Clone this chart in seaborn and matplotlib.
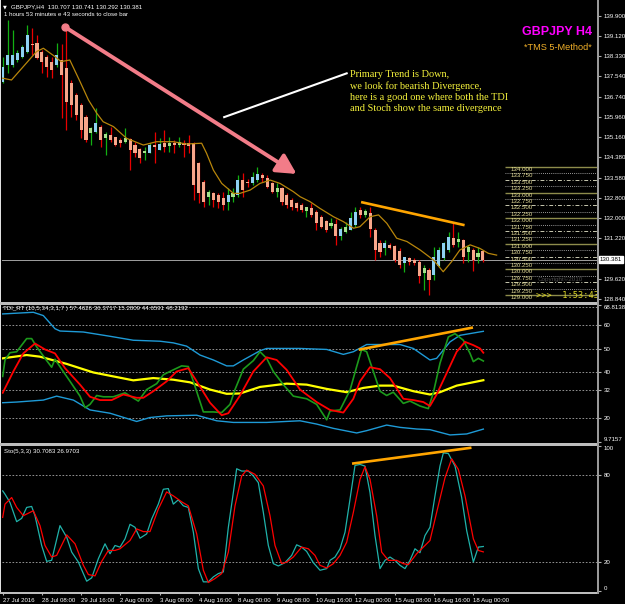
import matplotlib
matplotlib.use("Agg")
import matplotlib.pyplot as plt
import seaborn as sns
import pandas as pd
from matplotlib.patches import FancyArrowPatch, Rectangle, ArrowStyle

# ---------------- data ----------------
opens = [137.33, 137.99, 137.99, 138.18, 138.29, 138.51, 138.80, 138.83, 138.51, 138.31,
         138.12, 137.99, 138.18, 137.86, 137.27, 136.81, 136.42, 135.97, 135.32, 135.38,
         135.58, 135.12, 135.25, 135.16, 135.06, 134.99, 135.08, 134.86, 134.69, 134.53,
         134.56, 134.86, 134.66, 134.92, 134.82, 134.95, 134.86, 134.92, 134.92, 134.92,
         134.14, 133.43, 132.84, 132.97, 132.91, 132.78, 132.65, 132.84, 132.91, 133.49,
         133.40, 133.36, 133.49, 133.69, 133.56, 133.36, 133.04, 133.17, 132.91, 132.71,
         132.58, 132.52, 132.30, 132.39, 132.26, 132.06, 131.89, 131.70, 131.77, 131.31,
         131.48, 131.54, 131.74, 132.32, 132.13, 132.22, 131.54, 131.02, 130.82, 130.95,
         130.92, 130.73, 130.24, 130.43, 130.37, 130.30, 129.87, 129.98, 129.78, 130.14,
         130.43, 130.76, 131.22, 131.09, 131.15, 130.69, 130.76, 130.50, 130.707]
highs = [138.31, 139.74, 139.35, 138.57, 138.77, 139.55, 139.42, 139.16, 138.57, 138.38,
         138.31, 138.83, 138.80, 139.55, 137.40, 136.88, 136.49, 136.03, 135.58, 136.29,
         135.64, 135.38, 135.58, 135.19, 135.12, 135.54, 135.12, 134.99, 134.73, 134.79,
         134.92, 135.38, 135.12, 135.45, 135.19, 135.06, 135.19, 135.06, 135.25, 134.99,
         134.21, 133.49, 133.10, 133.04, 132.97, 133.04, 133.17, 133.17, 133.69, 133.75,
         133.52, 133.82, 134.01, 133.75, 133.69, 133.43, 133.36, 133.23, 132.97, 132.78,
         132.65, 132.58, 132.45, 132.58, 132.32, 132.13, 131.93, 132.00, 131.96, 131.67,
         131.87, 132.26, 132.45, 132.45, 132.35, 132.45, 131.61, 131.15, 131.15, 131.02,
         130.95, 130.82, 130.50, 130.47, 130.43, 130.37, 130.17, 130.04, 130.89, 130.89,
         131.09, 131.48, 131.80, 131.48, 131.18, 130.95, 130.82, 130.86, 130.741]
lows = [137.30, 137.66, 137.90, 138.12, 138.25, 138.44, 138.37, 138.21, 137.66, 137.53,
        137.47, 137.92, 135.90, 135.45, 135.97, 135.84, 135.12, 134.99, 134.86, 135.32,
        134.80, 134.47, 134.99, 134.82, 134.80, 134.92, 133.88, 134.40, 134.14, 134.27,
        134.53, 134.14, 134.66, 134.60, 134.60, 134.53, 134.80, 134.40, 134.53, 132.71,
        132.58, 132.45, 132.52, 132.45, 132.39, 132.32, 132.32, 132.65, 132.84, 132.84,
        133.23, 133.30, 133.43, 133.43, 133.17, 132.97, 132.84, 132.52, 132.39, 132.32,
        132.30, 132.26, 132.06, 132.06, 131.54, 131.61, 131.48, 131.61, 130.95, 131.15,
        131.41, 131.54, 131.67, 132.00, 132.06, 131.25, 130.37, 130.50, 130.56, 130.78,
        130.30, 130.04, 129.91, 130.17, 130.17, 129.46, 129.20, 129.00, 129.59, 130.11,
        130.37, 130.69, 130.89, 130.89, 130.24, 130.30, 129.95, 130.24, 130.292]
closes = [137.92, 138.38, 138.38, 138.44, 138.70, 139.16, 138.78, 138.25, 138.12, 137.92,
          137.79, 138.38, 137.60, 136.55, 136.42, 136.03, 135.45, 135.06, 135.51, 135.71,
          135.06, 135.28, 135.06, 134.86, 134.95, 135.12, 134.66, 134.53, 134.34, 134.62,
          134.86, 134.79, 134.90, 134.79, 134.95, 134.86, 134.99, 134.86, 134.82, 133.30,
          132.97, 132.65, 133.04, 132.71, 132.65, 132.52, 132.91, 132.97, 133.49, 133.10,
          133.36, 133.62, 133.73, 133.56, 133.23, 133.04, 133.17, 132.65, 132.52, 132.45,
          132.39, 132.32, 132.42, 132.13, 131.83, 131.67, 131.54, 131.83, 131.31, 131.57,
          131.67, 132.00, 132.26, 132.13, 132.28, 131.57, 130.76, 130.69, 131.04, 130.82,
          130.37, 130.17, 130.47, 130.30, 130.24, 129.74, 130.04, 129.59, 130.50, 130.76,
          131.04, 131.25, 130.95, 131.18, 130.50, 130.89, 130.37, 130.63, 130.381]

ma_bar = [0, 1.8, 6.9, 8.3, 10.7, 11.9, 13.7, 15.8, 17.5, 19.2, 20.5, 22.6, 25.3, 28.7, 31.4,
          34.8, 37.5, 40.6, 41.6, 43.0, 44.7, 47.1, 48.4, 50.5, 52.5, 54.6, 56.6, 59.3, 60.7,
          62.7, 64.7, 67.5, 69.5, 71.6, 72.9, 75.0, 76.7, 78.4, 80.4, 82.5, 85.2, 87.9, 89.9,
          91.6, 93.3, 95.4, 97.4, 99.1, 100.8]
ma_val = [137.47, 137.40, 138.51, 138.64, 138.31, 138.12, 138.18, 137.33, 136.62, 136.10,
          135.77, 135.58, 135.12, 134.86, 134.99, 134.99, 134.90, 134.93, 134.54, 133.88,
          133.36, 132.97, 132.97, 133.10, 133.36, 133.49, 133.36, 133.04, 132.84, 132.65,
          132.39, 132.06, 131.87, 131.61, 131.67, 132.06, 132.13, 131.80, 131.22, 131.09,
          130.76, 130.37, 129.91, 130.30, 130.76, 130.96, 130.82, 130.63, 130.56]

level_vals = [134.00, 133.75, 133.50, 133.25, 133.00, 132.75, 132.50, 132.25, 132.00, 131.75,
              131.50, 131.25, 131.00, 130.75, 130.50, 130.25, 130.00, 129.75, 129.50, 129.25,
              129.00]
last_price = 130.381
main_ticks = [139.900, 139.120, 138.330, 137.540, 136.740, 135.960, 135.160, 134.380,
              133.580, 132.800, 132.000, 131.220, 129.620, 128.840]

up_bar = [0, 6.25, 8.29, 10.67, 11.69, 16.46, 21.90, 26.66, 32.10, 34.82, 37.54, 40.27, 42.99,
          45.71, 47.07, 49.11, 52.51, 53.87, 60.67, 66.12, 69.52, 71.56, 74.28, 81.08, 83.80,
          87.20, 88.56, 91.29, 93.33, 98.09]
up_val = [64.96, 65.67, 64.25, 58.58, 57.59, 57.16, 55.32, 53.61, 53.19, 52.48, 51.06, 47.23,
          45.10, 42.55, 42.55, 45.10, 49.07, 50.07, 50.07, 49.64, 47.51, 48.65, 51.77, 51.77,
          50.07, 45.10, 45.81, 52.91, 55.74, 57.46]
lo_bar = [0, 2.85, 8.29, 11.01, 14.42, 17.82, 21.90, 27.34, 30.06, 33.46, 39.59, 43.67, 47.07,
          53.87, 60.67, 64.07, 67.48, 72.24, 74.28, 78.36, 81.08, 84.48, 87.20, 91.29, 94.69,
          98.09]
lo_val = [26.66, 26.95, 27.80, 29.50, 27.80, 23.54, 22.13, 18.58, 20.28, 20.99, 21.27, 18.87,
          18.16, 18.16, 18.87, 17.45, 15.60, 13.61, 14.61, 17.02, 16.03, 15.32, 15.03, 12.76,
          13.19, 15.28]
mid_bar = [0, 4.89, 7.61, 13.06, 18.50, 22.58, 26.66, 30.74, 34.82, 38.23, 42.31, 45.71, 48.43,
           52.51, 57.95, 62.03, 66.12, 70.20, 73.60, 77.00, 79.72, 83.80, 87.20, 89.24, 92.65,
           98.09]
mid_val = [45.81, 47.23, 46.52, 43.40, 39.71, 38.01, 36.31, 37.30, 36.59, 35.46, 32.34, 30.50,
           30.64, 33.47, 34.89, 34.46, 32.62, 31.20, 33.05, 34.04, 34.04, 31.63, 30.21, 31.20,
           34.04, 36.37]
rsi_bar = [0, 0.47, 1.49, 2.85, 4.89, 5.91, 6.93, 8.63, 9.99, 10.67, 12.03, 13.74, 15.78, 16.80,
           17.82, 19.18, 20.54, 22.58, 24.96, 27.68, 29.38, 31.42, 32.78, 34.82, 36.52, 37.88,
           38.91, 40.95, 42.99, 44.69, 46.39, 47.41, 49.11, 51.15, 52.51, 53.87, 55.23, 57.27,
           59.31, 62.03, 64.07, 66.12, 66.80, 68.84, 70.88, 72.24, 73.26, 74.28, 75.64, 77.00,
           78.36, 79.72, 81.76, 83.12, 85.16, 86.86, 87.88, 89.24, 90.95, 92.31, 94.01, 95.37,
           96.05, 97.07, 98.09]
rsi_val = [38.01, 45.10, 48.22, 48.65, 54.32, 54.32, 50.78, 45.81, 41.98, 45.39, 41.13, 35.88,
           29.50, 24.54, 25.95, 29.78, 29.22, 29.22, 30.92, 27.37, 32.34, 34.89, 38.72, 40.85,
           42.55, 42.27, 35.88, 22.69, 22.69, 22.41, 25.95, 32.34, 41.13, 44.82, 48.65, 45.81,
           40.14, 34.46, 29.50, 28.37, 25.95, 19.29, 23.12, 23.54, 32.05, 42.27, 49.64, 48.65,
           40.14, 31.63, 29.78, 31.20, 26.38, 27.37, 25.24, 24.11, 30.92, 43.68, 55.03, 56.45,
           53.61, 47.94, 44.39, 45.81, 44.66]
sig_bar = [0, 2.17, 4.21, 6.59, 8.63, 10.67, 12.72, 15.78, 17.82, 19.86, 22.24, 24.62, 27.34,
           28.70, 30.74, 33.46, 35.50, 37.88, 39.59, 42.31, 44.69, 46.05, 48.43, 51.15, 53.87,
           55.91, 57.95, 60.67, 64.07, 66.80, 69.52, 71.56, 72.92, 74.96, 77.00, 79.04, 81.76,
           83.80, 85.84, 87.20, 88.56, 90.61, 92.65, 94.35, 96.05, 97.41, 98.09]
sig_val = [30.92, 40.14, 47.94, 52.20, 49.64, 47.94, 41.56, 34.46, 29.22, 27.80, 27.80, 30.21,
           28.79, 28.79, 31.63, 35.88, 40.14, 41.56, 35.88, 26.66, 21.27, 22.13, 29.78, 40.14,
           46.24, 45.10, 40.85, 32.34, 26.95, 23.54, 22.41, 28.37, 35.88, 41.98, 41.13, 37.30,
           28.37, 27.80, 26.95, 25.24, 30.21, 39.43, 48.65, 52.91, 51.49, 50.07, 48.22]
tdi_levels = [68, 60, 50, 40, 32, 20]
tdi_ticks = [68.8138, 60, 50, 40, 32, 20, 9.7157]

stk_bar = [0, 0.47, 1.49, 2.85, 3.87, 4.89, 5.91, 6.59, 7.95, 8.97, 9.99, 11.69, 13.06, 14.08,
           15.44, 16.46, 17.14, 18.16, 19.52, 20.88, 21.90, 22.92, 23.94, 24.96, 25.98, 27.0,
           28.02, 29.38, 30.40, 31.76, 32.78, 33.80, 34.82, 35.84, 36.86, 37.88, 38.91, 39.93,
           40.95, 41.97, 42.99, 44.01, 45.03, 46.05, 47.07, 47.75, 48.77, 50.13, 51.15, 52.17,
           53.19, 54.21, 55.23, 56.25, 57.61, 58.97, 59.99, 61.01, 62.03, 63.39, 64.76, 66.12,
           66.80, 67.82, 68.84, 69.86, 70.88, 71.90, 72.92, 73.94, 74.96, 75.98, 77.00, 78.02,
           79.04, 80.06, 81.08, 82.10, 83.12, 84.14, 85.16, 86.18, 87.20, 88.22, 89.24, 89.93,
           90.95, 92.31, 93.67, 94.69, 96.05, 97.07, 98.09]
stk_val = [69.21, 66.92, 61.19, 47.91, 50.20, 57.76, 58.44, 52.03, 31.42, 20.43, 21.12, 45.16,
           37.15, 26.84, 19.97, 11.96, 6.69, 8.98, 22.26, 32.57, 25.70, 31.42, 30.28, 36.00,
           46.08, 44.02, 36.46, 39.44, 49.74, 60.05, 70.35, 70.81, 60.05, 63.02, 58.90, 57.76,
           40.58, 15.39, 6.23, 6.23, 9.67, 11.96, 13.11, 44.02, 68.06, 84.55, 82.95, 82.95,
           79.51, 74.93, 54.32, 31.42, 18.83, 17.23, 19.52, 24.55, 31.88, 30.28, 27.30, 19.52,
           14.25, 15.39, 21.12, 23.41, 29.13, 40.58, 63.48, 86.84, 87.53, 86.38, 68.06, 38.29,
           15.39, 21.12, 23.41, 21.12, 17.68, 15.39, 21.12, 29.13, 26.38, 38.29, 44.02, 65.77,
           86.38, 95.54, 95.08, 86.38, 64.63, 41.73, 19.97, 30.28, 30.71]
sts_bar = [0, 0.47, 1.83, 2.85, 4.21, 6.25, 7.61, 8.63, 9.99, 11.01, 13.06, 14.76, 16.46, 17.48,
           18.84, 20.20, 21.56, 22.92, 23.94, 25.98, 27.34, 28.70, 30.06, 31.76, 33.46, 34.82,
           36.52, 37.88, 39.59, 40.95, 41.97, 43.33, 44.69, 46.05, 47.41, 48.77, 49.79, 51.49,
           53.19, 54.55, 55.57, 56.93, 57.95, 59.31, 61.01, 62.37, 63.73, 64.76, 66.12, 67.48,
           68.84, 70.20, 71.56, 72.92, 73.94, 74.96, 76.32, 77.34, 78.70, 80.40, 81.76, 82.78,
           84.48, 86.18, 87.20, 88.56, 90.27, 91.63, 92.99, 94.35, 96.05, 97.07, 98.09]
sts_val = [50.89, 60.05, 64.63, 57.76, 52.03, 55.47, 45.16, 31.42, 23.41, 24.55, 38.75, 32.57,
           17.68, 11.27, 10.36, 20.43, 27.99, 27.99, 29.13, 34.86, 42.87, 41.04, 41.04, 56.61,
           68.52, 65.77, 61.65, 58.90, 39.44, 14.25, 5.77, 8.52, 11.96, 26.84, 58.90, 79.51,
           83.63, 80.66, 72.64, 52.03, 31.42, 18.83, 19.97, 23.41, 30.28, 29.13, 24.55, 17.68,
           15.85, 18.83, 24.55, 33.71, 54.32, 77.22, 85.92, 77.22, 52.03, 26.84, 21.12, 21.12,
           18.83, 18.14, 25.70, 31.42, 34.86, 54.32, 78.37, 91.42, 84.09, 65.77, 36.00, 27.99,
           26.97]
sto_levels = [80, 20]
sto_ticks = [100, 80, 20, 0]

date_bars = [0, 8, 16, 24, 32, 40, 48, 56, 64, 72, 80, 88, 96]
date_labels = ["27 Jul 2016", "28 Jul 08:00", "29 Jul 16:00", "2 Aug 00:00", "3 Aug 08:00",
               "4 Aug 16:00", "8 Aug 00:00", "9 Aug 08:00", "10 Aug 16:00", "12 Aug 00:00",
               "15 Aug 08:00", "16 Aug 16:00", "18 Aug 00:00"]

# annotation anchor points (bar, value)
trend_arrow = [(12.71, 139.47), (59.97, 133.73)]
pointer_line = [(45.2, 135.95), (70.2, 137.66)]
price_div = [(73.4, 132.62), (94.0, 131.74)]
tdi_div = [(72.92, 49.64), (95.71, 59.0)]
sto_div = [(71.56, 88.21), (95.4, 99.0)]

# ---------------- figure ----------------
W, H = 625, 604
plt.rcParams['font.family'] = ['Liberation Sans', 'DejaVu Sans']
fig = plt.figure(figsize=(W / 100, H / 100), dpi=100, facecolor='black')
X0, X1 = -0.143, 121.49
SMALL = 4.4


def panel(top, bottom, ylim):
    ax = fig.add_axes([2 / W, 1 - bottom / H, 596 / W, (bottom - top) / H])
    ax.set_facecolor('black')
    for s in ax.spines.values():
        s.set_visible(False)
    ax.set_xlim(X0, X1)
    ax.set_ylim(*ylim)
    ax.yaxis.tick_right()
    ax.tick_params(axis='y', colors='#B0B0B0', labelcolor='white', labelsize=SMALL,
                   length=2.5, width=0.8, pad=1.5)
    ax.tick_params(axis='x', bottom=False, labelbottom=False)
    ax.set_xlabel('')
    ax.set_ylabel('')
    return ax


def ftext(x, y, s, **kw):
    fig.text(x / W, 1 - y / H, s, **kw)


def frect(x0, y0, x1, y1, color):
    fig.add_artist(Rectangle((x0 / W, 1 - y1 / H), (x1 - x0) / W, (y1 - y0) / H,
                             transform=fig.transFigure, color=color, zorder=20, lw=0))


ax_m = panel(0, 301, (128.767, 140.525))
ax_t = panel(305, 442, (9.7157, 68.8138))
ax_s = panel(446, 592, (-0.8, 100.3))

# ---- candles ----
df = pd.DataFrame({'bar': range(len(opens)), 'open': opens, 'high': highs,
                   'low': lows, 'close': closes})
body_col = []
wick_col = []
for o, c in zip(df['open'], df['close']):
    if c >= o:
        body_col.append('#8ED1F2' if c - o >= 0.2 else '#A6E08C')
        wick_col.append('#12B012')
    else:
        body_col.append('#F7A68A')
        wick_col.append('#E80000')
ax_m.vlines(df['bar'], df['low'], df['high'], colors=wick_col, lw=0.9, zorder=2)
body_h = (df['close'] - df['open']).abs().clip(lower=0.035)
body_b = df[['open', 'close']].min(axis=1)
ax_m.bar(df['bar'], body_h, bottom=body_b, width=0.62, color=body_col, lw=0, zorder=3)

sns.lineplot(x=ma_bar, y=ma_val, ax=ax_m, color='#B8860B', lw=0.9, estimator=None,
             sort=False, zorder=4)

# current price line
ax_m.axhline(last_price, color='#A0A0A0', lw=0.7, zorder=1)

# level grid on right
lx0, lx1 = 102.5, X1
for lv in level_vals:
    frac = round(lv % 1, 2)
    if frac == 0:
        ax_m.hlines(lv, lx0, lx1, color='#8E8C4C', lw=1.0, zorder=2)
    elif frac == 0.5:
        ax_m.hlines(lv, lx0, lx1, color='#C8C8B0', lw=0.7, linestyles=(0, (4, 2, 1, 2)), zorder=2)
    else:
        ax_m.hlines(lv, lx0, lx1, color='#C8C8C8', lw=0.6, linestyles=(0, (1, 1.5)), zorder=2)
    ax_m.text(103.7, lv, f"{lv:.3f}", color='#E4DC98', fontsize=SMALL, va='top', ha='left',
              zorder=5)

ax_m.set_yticks(main_ticks)
ax_m.set_yticklabels([f"{v:.3f}" for v in main_ticks])
ax_m.text(1.0025, last_price, f"{last_price:.3f}", transform=ax_m.get_yaxis_transform(),
          color='black', fontsize=SMALL, va='center', ha='left',
          bbox=dict(boxstyle='square,pad=0.15', fc='white', ec='white'))

# arrow & lines
(ax0, ay0), (ax1, ay1) = trend_arrow
arr = FancyArrowPatch((ax0, ay0), (ax1, ay1),
                      arrowstyle=ArrowStyle('-|>', head_length=0.85, head_width=0.45),
                      mutation_scale=14, color='#F27C88', lw=2.8, zorder=6,
                      shrinkA=0, shrinkB=0)
ax_m.add_patch(arr)
ax_m.plot([ax0], [ay0], 'o', color='#F27C88', ms=5, zorder=6)
sns.lineplot(x=[p[0] for p in pointer_line], y=[p[1] for p in pointer_line], ax=ax_m,
             color='white', lw=1.5, estimator=None, zorder=6)
sns.lineplot(x=[p[0] for p in price_div], y=[p[1] for p in price_div], ax=ax_m,
             color='#FFA500', lw=1.9, estimator=None, zorder=6)

# ---- TDI ----
for lv in tdi_levels:
    ax_t.axhline(lv, color='#A8A8A8', lw=0.6, ls=(0, (2, 2)), zorder=1)
sns.lineplot(x=up_bar, y=up_val, ax=ax_t, color='#1E9AD6', lw=1.0, estimator=None, sort=False)
sns.lineplot(x=lo_bar, y=lo_val, ax=ax_t, color='#1E9AD6', lw=1.0, estimator=None, sort=False)
sns.lineplot(x=mid_bar, y=mid_val, ax=ax_t, color='#FFFF00', lw=1.6, estimator=None, sort=False)
sns.lineplot(x=rsi_bar, y=rsi_val, ax=ax_t, color='#1C9A1C', lw=1.2, estimator=None, sort=False)
sns.lineplot(x=sig_bar, y=sig_val, ax=ax_t, color='#FF0000', lw=1.3, estimator=None, sort=False)
sns.lineplot(x=[p[0] for p in tdi_div], y=[p[1] for p in tdi_div], ax=ax_t,
             color='#FFA500', lw=1.9, estimator=None)
ax_t.set_yticks(tdi_ticks)
ax_t.set_yticklabels([f"{v:g}" for v in tdi_ticks])
tl = ax_t.get_yticklabels()
tl[0].set_va('top')
tl[-1].set_va('bottom')

# ---- Stochastic ----
for lv in sto_levels:
    ax_s.axhline(lv, color='#A8A8A8', lw=0.6, ls=(0, (2, 2)), zorder=1)
sns.lineplot(x=stk_bar, y=stk_val, ax=ax_s, color='#20B2AA', lw=0.9, estimator=None, sort=False)
sns.lineplot(x=sts_bar, y=sts_val, ax=ax_s, color='#FF0000', lw=0.9, estimator=None, sort=False)
sns.lineplot(x=[p[0] for p in sto_div], y=[p[1] for p in sto_div], ax=ax_s,
             color='#FFA500', lw=1.9, estimator=None)
ax_s.set_yticks(sto_ticks)
ax_s.set_yticklabels([str(v) for v in sto_ticks])
sl = ax_s.get_yticklabels()
sl[0].set_va('top')
sl[-1].set_va('bottom')
ax_s.set_xticks(date_bars)
ax_s.set_xticklabels(date_labels, ha='left')
ax_s.tick_params(axis='x', bottom=True, labelbottom=True, colors='#B0B0B0', labelcolor='white',
                 labelsize=SMALL, length=2.5, width=0.8, pad=1.5)
for a in (ax_m, ax_t, ax_s):
    a.set_xlim(X0, X1)
    a.set_xlabel('')
    a.set_ylabel('')
    if a.get_legend():
        a.get_legend().remove()

# ---- frames ----
frect(0, 0, 1.5, 594, '#E0E0E0')
frect(0, 301.5, 599, 304.5, '#BDBDBD')
frect(0, 442.5, 599, 445.5, '#BDBDBD')
frect(0, 592, 599, 594, '#BDBDBD')
frect(597.3, 0, 598.8, 594, '#9A9A9A')

# ---- texts ----
ftext(3, 6.5, '\u25bc', color='white', fontsize=3.6, va='center', family=['DejaVu Sans'])
ftext(11, 6.5, 'GBPJPY,H4  130.707 130.741 130.292 130.381', color='white', fontsize=SMALL,
      va='center')
ftext(4, 15, '1 hours 53 minutes e 43 seconds to close bar', color='white', fontsize=SMALL,
      va='center')
ftext(3, 308, 'TDI_RT (10,5,34,3,1,7 ) 57.4626 36.3717 15.2809 44.6591 48.2192',
      color='white', fontsize=SMALL, va='center')
ftext(4, 451, 'Sto(5,3,3) 30.7083 26.9703', color='white', fontsize=SMALL, va='center')
ftext(592, 32, 'GBPJPY H4', color='#FF00FF', fontsize=9, fontweight='bold', ha='right',
      va='center')
ftext(592, 48, '*TMS 5-Method*', color='#F2B12A', fontsize=6.6, ha='right', va='center')
ftext(350, 70, 'Primary Trend is Down,\nwe look for bearish Divergence,\n'
      'here is a good one where both the TDI\nand Stoch show the same divergence',
      color='#F5F23C', fontsize=7.4, va='top', ha='left', linespacing=1.3,
      family=['Liberation Serif', 'DejaVu Serif'])
ftext(538, 279, 'Copyright\u00a92010', color='#4A4A4A', fontsize=4.5, va='center')
ftext(536, 295, '>>>  1:53:43', color='#DCD628', fontsize=6.2, va='center',
      family=['DejaVu Sans Mono'])

fig.savefig('out.png', dpi=100, facecolor='black')
